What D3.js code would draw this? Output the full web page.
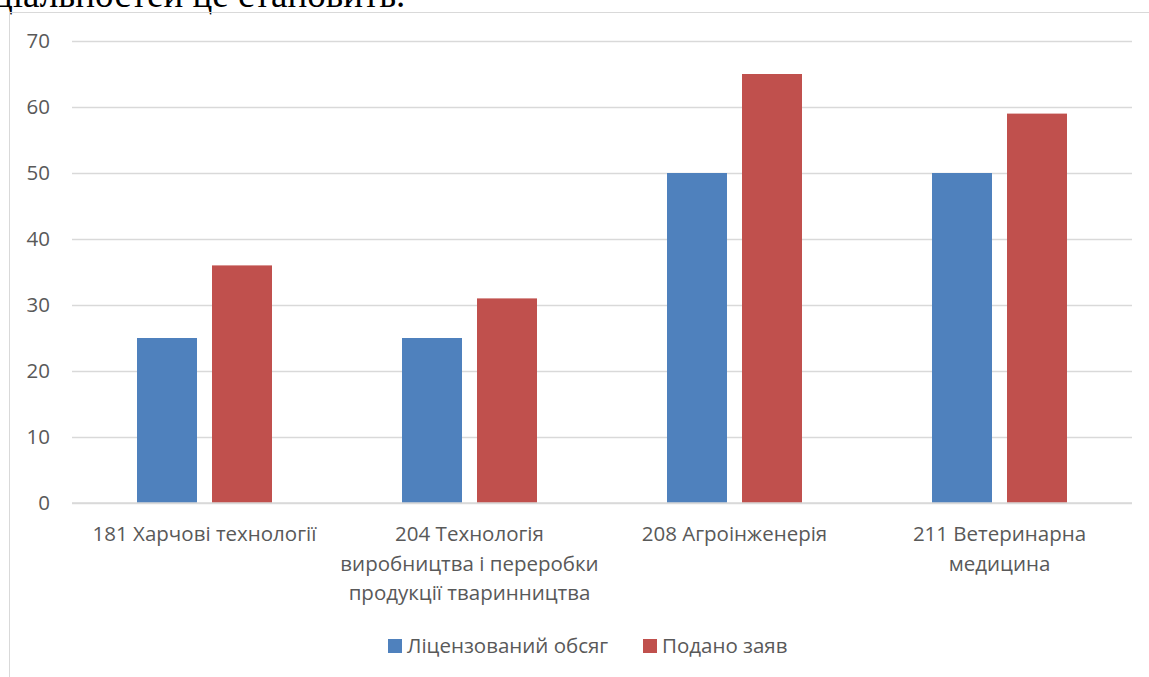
<!DOCTYPE html>
<html>
<head>
<meta charset="utf-8">
<script src="https://cdn.jsdelivr.net/npm/d3@7"></script>
<style>
  body { margin: 0; background: #fff; }
  svg { display: block; }
</style>
</head>
<body>
<div id="chart"></div>
<script>
// chart values
const categories = [
    ['181 Харчові технології'],
    ['204 Технологія', 'виробництва і переробки', 'продукції тваринництва'],
    ['208 Агроінженерія'],
    ['211 Ветеринарна', 'медицина']
];
const seriesNames = ['Ліцензований обсяг', 'Подано заяв'];
const licensed = [25, 25, 50, 50];
const submitted = [36, 31, 65, 59];
const yTicks = [0, 10, 20, 30, 40, 50, 60, 70];
const colors = ['#4F81BD', '#C0504D'];

const W = 1149, H = 677;
const svg = d3.select('#chart').append('svg')
    .attr('width', W)
    .attr('height', H);

// heading text from the page, cut off at the top
svg.append('text')
    .attr('x', -7)
    .attr('y', 7)
    .style('font-family', '"Liberation Serif", serif')
    .style('font-size', '37px')
    .style('fill', '#000')
    .text('ціальностей це становить.');

// chart border
svg.append('rect')
    .attr('x', 9.5)
    .attr('y', 12.5)
    .attr('width', W + 10)
    .attr('height', H + 10)
    .attr('fill', 'none')
    .attr('stroke', '#d9d9d9');

const rows = categories.map((c, i) => ({ label: c, values: [licensed[i], submitted[i]] }));

// scales
const x0 = d3.scaleBand()
    .domain(d3.range(categories.length))
    .range([72, 1132])
    .paddingInner(0.4906)
    .paddingOuter(0.2453);

const x1 = d3.scaleBand()
    .domain(d3.range(seriesNames.length))
    .range([0, x0.bandwidth()])
    .paddingInner(0.2);

const y = d3.scaleLinear()
    .domain([0, 70])
    .range([503, 41]);

const font = '"Open Sans", sans-serif';
const fontSize = '20.5px';

// gridlines + y axis
const yAxis = svg.append('g')
    .attr('transform', 'translate(72,0)')
    .call(d3.axisLeft(y).tickValues(yTicks).tickSize(-1060).tickPadding(22));
yAxis.select('.domain').remove();
yAxis.selectAll('line').attr('stroke', '#d9d9d9').attr('stroke-width', 1.3);
yAxis.selectAll('text')
    .style('font-family', font)
    .style('font-size', fontSize)
    .style('fill', '#595959');

// bars
svg.append('g')
    .selectAll('g')
    .data(rows)
    .enter()
    .append('g')
    .attr('transform', (d, i) => `translate(${x0(i)},0)`)
    .selectAll('rect')
    .data(d => d.values)
    .enter()
    .append('rect')
    .attr('x', (d, j) => x1(j))
    .attr('y', d => y(d))
    .attr('width', x1.bandwidth())
    .attr('height', d => y(0) - y(d))
    .attr('fill', (d, j) => colors[j]);

// x axis line
svg.append('line')
    .attr('x1', 72).attr('x2', 1132)
    .attr('y1', y(0)).attr('y2', y(0))
    .attr('stroke', '#d9d9d9')
    .attr('stroke-width', 1.3);

// category labels
const catLabels = svg.append('g')
    .selectAll('text')
    .data(rows)
    .enter()
    .append('text')
    .attr('x', (d, i) => x0(i) + x0.bandwidth() / 2)
    .attr('y', 541)
    .attr('text-anchor', 'middle')
    .style('font-family', font)
    .style('font-size', fontSize)
    .style('fill', '#595959');
catLabels.each(function (d, i) {
    d3.select(this).selectAll('tspan')
        .data(d.label)
        .enter()
        .append('tspan')
        .attr('x', x0(i) + x0.bandwidth() / 2)
        .attr('dy', (t, k) => k === 0 ? 0 : 29.5)
        .text(t => t);
});

// legend
const legendX = [388, 643];
const legend = svg.append('g')
    .selectAll('g')
    .data(seriesNames)
    .enter()
    .append('g')
    .attr('transform', (d, i) => `translate(${legendX[i]},639)`);
legend.append('rect')
    .attr('width', 14)
    .attr('height', 14)
    .attr('fill', (d, i) => colors[i]);
legend.append('text')
    .attr('x', 19)
    .attr('y', 14)
    .style('font-family', font)
    .style('font-size', fontSize)
    .style('fill', '#595959')
    .text(d => d);
</script>
</body>
</html>
